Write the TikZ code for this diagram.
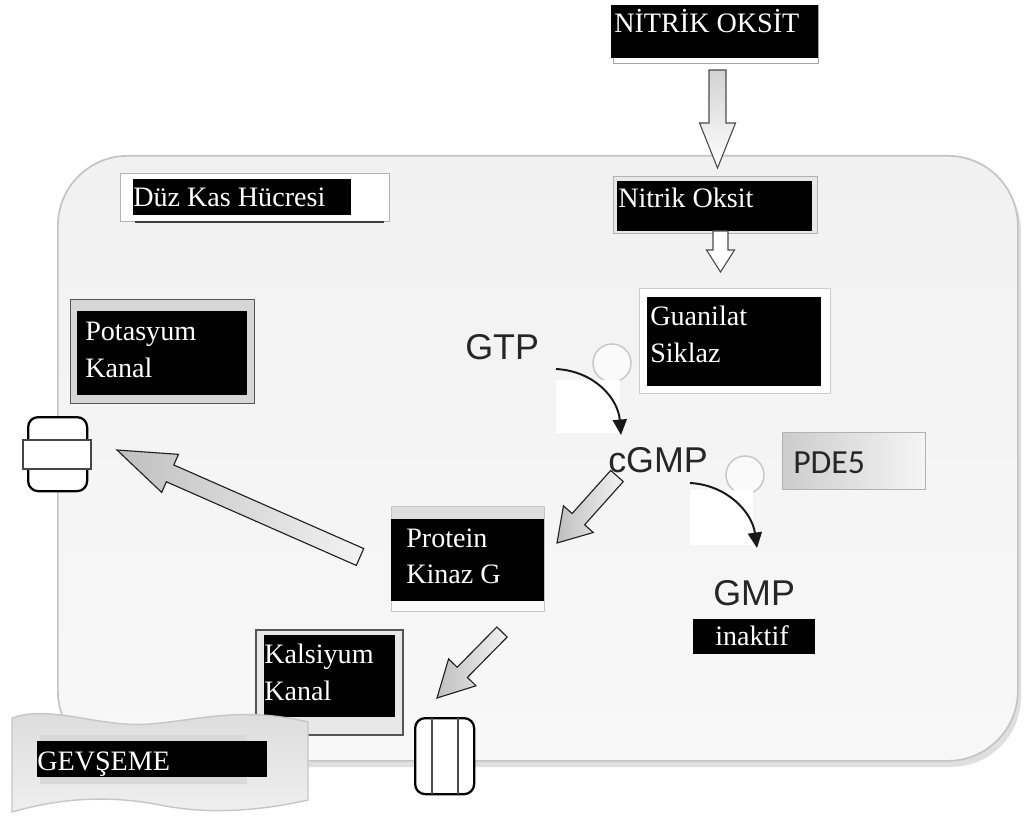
\documentclass[tikz,border=0pt]{standalone}
\usepackage{fontspec}
\setmainfont{Liberation Serif}
\newfontfamily\sansf{Liberation Sans}
\newfontfamily\calf{Carlito}
\usetikzlibrary{calc,arrows.meta}
\definecolor{cellfill}{HTML}{F1F1F1}
\definecolor{cellfilllow}{HTML}{F8F8F8}
\definecolor{cellline}{HTML}{C4C4C4}
\definecolor{framegray}{HTML}{D6D6D6}
\definecolor{darkframe}{HTML}{555555}

% box from pixel corners: name, x1, y1, x2, y2, style
\newcommand\pbox[6]{\node[#6, anchor=north west, inner sep=0pt, minimum width={(#4-#2)*0.025cm}, minimum height={(#5-#3)*0.025cm}] (#1) at (#2,#3) {};}
% block arrow: tail, tip, half shaft, half head, head length, style
\newcommand\blockarrow[6]{%
  \coordinate (#1#2h) at ($(#2)!#5!(#1)$);
  \draw[#6] ($(#1)!#3!90:(#2)$) -- ($(#1#2h)!#3!90:(#2)$) -- ($(#1#2h)!#4!90:(#2)$) -- (#2)
    -- ($(#1#2h)!#4!-90:(#2)$) -- ($(#1#2h)!#3!-90:(#2)$) -- ($(#1)!#3!-90:(#2)$) -- cycle;}

\begin{document}
\begin{tikzpicture}[x=0.025cm, y=-0.025cm,
  wt/.style={text=white, font=\fontsize{20}{24}\selectfont, inner sep=0pt, anchor=base west},
  st/.style={text=black!85, font=\sansf\fontsize{25.5}{30}\selectfont, inner sep=0pt, anchor=base west},
  blackbox/.style={fill=black},
  hollowarrow/.style={draw=gray!60!black, line width=0.8pt, top color=gray!35, bottom color=white},
  grayarrow/.style={draw=gray!25!black, line width=0.8pt, left color=gray!50, right color=gray!10},
  curv/.style={line width=1.4pt, black!90, -{Triangle[length=11pt,width=10pt]}},
  ring/.style={circle, draw=gray!45, fill=white!96!gray, line width=1pt, minimum size=0.95cm, inner sep=0pt},
  whitepatch/.style={fill=white}
]
\useasboundingbox (0,0) rectangle (1024,820);
\fill[white] (0,0) rectangle (1024,820);

% cell shadow and cell
\fill[gray!25, rounded corners=1.75cm] (62,162) rectangle (1021,767);
\node[draw=cellline, line width=1.2pt, top color=cellfill, bottom color=cellfilllow, rounded corners=1.75cm,
  anchor=north west, inner sep=0pt, minimum width={(1017-57)*0.025cm}, minimum height={(760-155)*0.025cm}] (cell) at (57,155) {};

% NITRIK OKSIT (outside)
\pbox{noutU}{613}{5}{818}{63}{fill=white, draw=gray!70}
\pbox{nout}{611}{5}{818}{58}{blackbox}
\node[wt] (noutT) at (614,33) {NİTRİK OKSİT};

% Nitrik Oksit (inside)
\pbox{ninF}{613}{176}{817}{233}{fill=gray!18, draw=gray!60, line width=0.8pt}
\pbox{nin}{617}{181}{812}{231}{blackbox}
\node[wt] (ninT) at (618,208) {Nitrik Oksit};

% arrow outside -> inside
\coordinate (a1s) at (717.5,70);
\coordinate (a1e) at (717.5,168);
\blockarrow{a1s}{a1e}{0.2125cm}{0.45cm}{1.125cm}{hollowarrow}

% Guanilat Siklaz
\pbox{gsF}{639}{288}{830}{393}{fill=white, draw=gray!40, line width=1pt}
\pbox{gs}{647}{297}{821}{386}{blackbox}
\node[wt] (gsT1) at (650,325) {Guanilat};
\node[wt] (gsT2) at (650,362) {Siklaz};

% arrow Nitrik Oksit -> Guanilat
\coordinate (a2s) at (720.5,231);
\coordinate (a2e) at (720.5,272);
\blockarrow{a2s}{a2e}{0.1875cm}{0.35cm}{0.55cm}{hollowarrow, top color=white}

% Duz Kas Hucresi
\pbox{dkF}{120}{173}{389}{221}{fill=white, draw=gray!60, line width=1pt}
\draw[black!75, line width=1.5pt] (dkF.south west) ++(15,0) coordinate (dkl) -- ($(dkF.south east)+(-6,0)$) coordinate (dkr);
\pbox{dk}{133}{179}{351}{215}{blackbox}
\node[wt] (dkT) at (133,207) {Düz Kas Hücresi};

% Potasyum Kanal
\pbox{pkF}{70}{299}{254}{403}{fill=framegray, draw=darkframe, line width=1pt}
\pbox{pk}{77}{311}{247}{395}{blackbox}
\node[wt] (pkT1) at (85,340) {Potasyum};
\node[wt] (pkT2) at (85,377) {Kanal};

% potassium channel
\node[draw=black, line width=1.6pt, fill=white, rounded corners=0.25cm, anchor=north west, inner sep=0pt,
  minimum width={59*0.025cm}, minimum height={74*0.025cm}] (kch) at (27,416) {};
\node[draw=gray!55!black, line width=1.2pt, fill=white, anchor=north west, inner sep=0pt,
  minimum width={68*0.025cm}, minimum height={29*0.025cm}] (kband) at (22,439) {};

% GTP -> cGMP
\node[st] (gtp) at (465,359) {GTP};
\node[ring] (r1) at (612,363) {};
\fill[whitepatch] (556,380) rectangle (620,433);
\coordinate (c1s) at (556,369);
\coordinate (c1e) at (621,435);
\draw[curv] (c1s) .. controls (594,371) and (618,398) .. (c1e);
\node[st] (cgmp) at (608,472) {cGMP};

% PDE5
\pbox{pde}{782}{432}{925}{489}{left color=gray!40, right color=gray!8, draw=gray!60, line width=1pt}
\node[inner sep=0pt, anchor=base west, font=\calf\fontsize{24}{28}\selectfont, text=black!85] (pdeT) at (793,473) {PDE5};
\node[ring] (r2) at (745,475) {};
\fill[whitepatch] (690,490) rectangle (753,545);
\coordinate (c2s) at (690,483);
\coordinate (c2e) at (757,548);
\draw[curv] (c2s) .. controls (727,485) and (752,512) .. (c2e);
\node[st] (gmp) at (713,605) {GMP};
\pbox{ina}{693}{619}{815}{654}{blackbox}
\node[wt] (inaT) at (715,645) {inaktif};

% Protein Kinaz G
\pbox{pkgF}{391}{506}{544}{611}{top color=gray!28, bottom color=gray!3, draw=gray!45, line width=0.8pt}
\pbox{pkg}{391}{519}{544}{601}{blackbox}
\node[wt] (pkgT1) at (406,547) {Protein};
\node[wt] (pkgT2) at (406,583) {Kinaz G};

% cGMP -> PKG
\coordinate (a3s) at (617,476);
\coordinate (a3e) at (557,543);
\blockarrow{a3s}{a3e}{0.21cm}{0.5cm}{0.8cm}{grayarrow}

% PKG -> potassium channel
\coordinate (a4s) at (360,557);
\coordinate (a4e) at (117,450);
\blockarrow{a4s}{a4e}{0.23cm}{0.52cm}{1.45cm}{grayarrow}

% Kalsiyum Kanal
\pbox{kkF}{255}{629}{402}{734}{fill=gray!18, draw=darkframe, line width=1.1pt}
\pbox{kk}{264}{635}{395}{717}{blackbox}
\node[wt] (kkT1) at (264,663) {Kalsiyum};
\node[wt] (kkT2) at (264,700) {Kanal};

% PKG -> calcium channel
\coordinate (a5s) at (502,632);
\coordinate (a5e) at (437,698);
\blockarrow{a5s}{a5e}{0.18cm}{0.48cm}{0.9cm}{grayarrow}

% calcium channel
\node[draw=black, line width=1.6pt, fill=white, rounded corners=0.25cm, anchor=north west, inner sep=0pt,
  minimum width={59*0.025cm}, minimum height={76*0.025cm}] (cach) at (414,717) {};
\draw[gray!60!black, line width=1.2pt] (cach.north west) ++(18,1) coordinate (cal1) -- ($(cach.south west)+(18,-1)$);
\draw[gray!60!black, line width=1.2pt] (cach.north west) ++(44,1) coordinate (cal2) -- ($(cach.south west)+(44,-1)$);

% GEVSEME banner
\draw[draw=gray!45, line width=1pt, top color=gray!28, bottom color=gray!12]
  (12,718) .. controls (50,704) and (100,728) .. (150,724)
  .. controls (200,720) and (240,706) .. (308,722)
  -- (308,800)
  .. controls (255,812) and (205,814) .. (160,805)
  .. controls (110,795) and (60,798) .. (12,812) -- cycle;
\pbox{gvS}{40}{735}{247}{784}{fill=gray!30}
\pbox{gv}{37}{741}{267}{777}{blackbox}
\node[wt] (gvT) at (37,770) {GEVŞEME};
\end{tikzpicture}
\end{document}
